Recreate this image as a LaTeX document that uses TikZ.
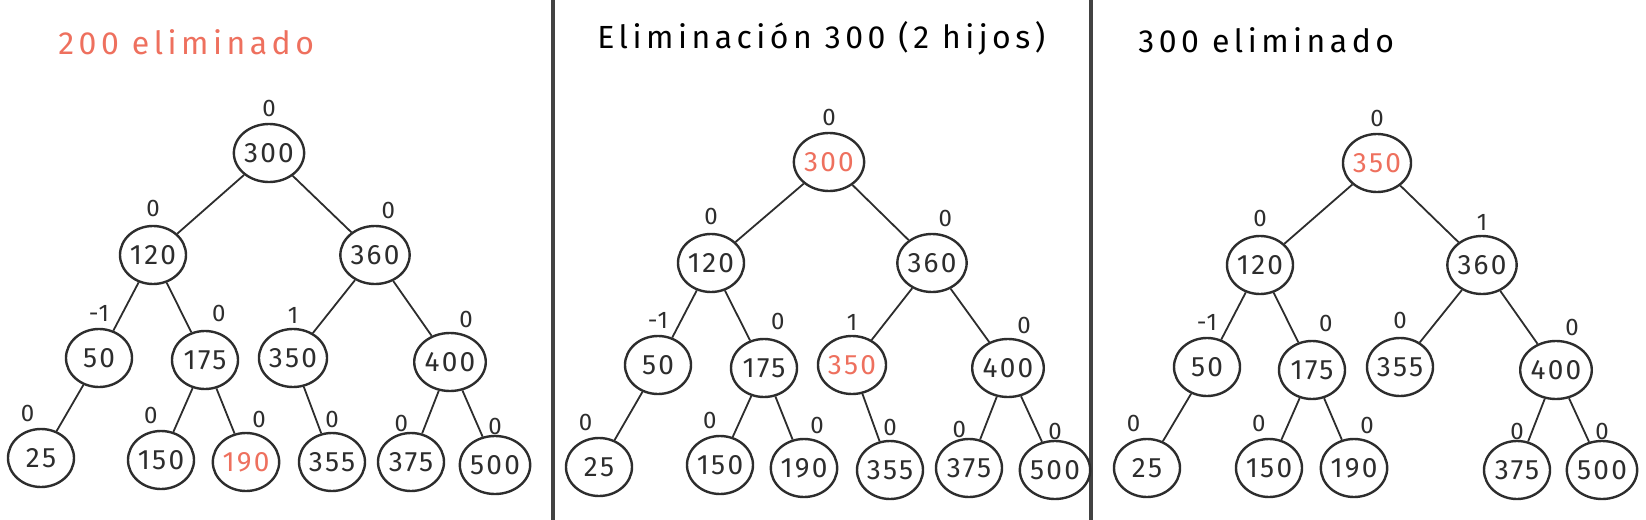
\documentclass[tikz,border=0pt]{standalone}
\usepackage{fontspec}
\setmainfont{Fira Sans}
\newfontfamily\hand[LetterSpace=8]{Fira Sans}
\newfontfamily\handwide[LetterSpace=14]{Fira Sans}
\usetikzlibrary{shapes.geometric}

\definecolor{salmon}{RGB}{238,112,94}
\definecolor{pencil}{RGB}{45,45,45}

\begin{document}
\begin{tikzpicture}
[x=0.5pt,y=-0.5pt,
 key/.style={ellipse,draw=pencil,line width=1.2pt,minimum width=33pt,minimum height=29pt,
   inner sep=0pt,text=pencil,font=\hand\fontsize{14}{14}\selectfont},
 bal/.style={inner sep=0pt,text=pencil,font=\hand\fontsize{12}{12}\selectfont},
 hot/.style={text=salmon},
 link/.style={draw=pencil,line width=0.9pt},
 title/.style={anchor=west,inner sep=0pt,font=\handwide\fontsize{16}{16}\selectfont},
 wall/.style={draw=pencil!90,line width=2pt}]

\useasboundingbox (0,0) rectangle (1646,520);

% separators
\coordinate (w1t) at (553,0);
\coordinate (w1b) at (553,520);
\coordinate (w2t) at (1091,0);
\coordinate (w2b) at (1091,520);
\draw [wall] (w1t) -- (w1b);
\draw [wall] (w2t) -- (w2b);

% --- panel 1
\node (t1) at (58,42) [title,text=salmon] {200 eliminado};
\node (a300) at (269,153) [key,label={[bal,label distance=3pt]above:0}] {300};
\node (a120) at (153,255) [key,label={[bal,label distance=4pt]above:0}] {120};
\node (a360) at (375,255) [key,label={[bal,label distance=3pt]80:0}] {360};
\node (a50) at (99,358) [key,label={[bal,label distance=3pt]above:-1}] {50};
\node (a175) at (205,360) [key,label={[bal,label distance=4pt]80:0}] {175};
\node (a350) at (293,358) [key,label={[bal,label distance=2pt]above:1}] {350};
\node (a400) at (450,362) [key,label={[bal,label distance=2pt]75:0}] {400};
\node (a25) at (41,458) [key,label={[bal,label distance=3pt]100:0}] {25};
\node (a150) at (161,460) [key,label={[bal,label distance=3pt]95:0}] {150};
\node (a190) at (246,462) [key,hot,label={[bal,label distance=2pt]80:0}] {190};
\node (a355) at (332,462) [key,label={[bal,label distance=2pt]above:0}] {355};
\node (a375) at (411,462) [key,label={[bal,label distance=0pt]95:0}] {375};
\node (a500) at (495,465) [key,label={[bal,label distance=0pt]above:0}] {500};

\path [link] (a300) -- (a120) (a300) -- (a360)
  (a120) -- (a50) (a120) -- (a175) (a360) -- (a350) (a360) -- (a400)
  (a50) -- (a25) (a175) -- (a150) (a175) -- (a190)
  (a350) -- (a355) (a400) -- (a375) (a400) -- (a500);

% --- panel 2
\node (t2) at (597,38) [title] {Eliminación 300 (2 hijos)};
\node (b300) at (829,162) [key,hot,label={[bal,label distance=3pt]above:0}] {300};
\node (b120) at (711,263) [key,label={[bal,label distance=4pt]above:0}] {120};
\node (b360) at (932,263) [key,label={[bal,label distance=3pt]80:0}] {360};
\node (b50) at (658,365) [key,label={[bal,label distance=3pt]above:-1}] {50};
\node (b175) at (764,368) [key,label={[bal,label distance=4pt]80:0}] {175};
\node (b350) at (852,365) [key,hot,label={[bal,label distance=2pt]above:1}] {350};
\node (b400) at (1008,368) [key,label={[bal,label distance=2pt]75:0}] {400};
\node (b25) at (599,467) [key,label={[bal,label distance=3pt]100:0}] {25};
\node (b150) at (720,465) [key,label={[bal,label distance=3pt]95:0}] {150};
\node (b190) at (804,468) [key,label={[bal,label distance=2pt]80:0}] {190};
\node (b355) at (890,470) [key,label={[bal,label distance=2pt]above:0}] {355};
\node (b375) at (969,468) [key,label={[bal,label distance=0pt]95:0}] {375};
\node (b500) at (1055,470) [key,label={[bal,label distance=0pt]above:0}] {500};

\path [link] (b300) -- (b120) (b300) -- (b360)
  (b120) -- (b50) (b120) -- (b175) (b360) -- (b350) (b360) -- (b400)
  (b50) -- (b25) (b175) -- (b150) (b175) -- (b190)
  (b350) -- (b355) (b400) -- (b375) (b400) -- (b500);

% --- panel 3
\node (t3) at (1138,40) [title] {300 eliminado};
\node (c350) at (1377,163) [key,hot,label={[bal,label distance=3pt]above:0}] {350};
\node (c120) at (1260,265) [key,label={[bal,label distance=4pt]above:0}] {120};
\node (c360) at (1482,265) [key,label={[bal,label distance=2pt]above:1}] {360};
\node (c50) at (1207,367) [key,label={[bal,label distance=3pt]above:-1}] {50};
\node (c175) at (1312,370) [key,label={[bal,label distance=4pt]80:0}] {175};
\node (c355) at (1400,367) [key,label={[bal,label distance=4pt]above:0}] {355};
\node (c400) at (1556,370) [key,label={[bal,label distance=2pt]75:0}] {400};
\node (c25) at (1147,468) [key,label={[bal,label distance=3pt]100:0}] {25};
\node (c150) at (1269,468) [key,label={[bal,label distance=3pt]95:0}] {150};
\node (c190) at (1354,468) [key,label={[bal,label distance=2pt]80:0}] {190};
\node (c375) at (1517,470) [key,label={[bal,label distance=0pt]above:0}] {375};
\node (c500) at (1602,470) [key,label={[bal,label distance=0pt]above:0}] {500};

\path [link] (c350) -- (c120) (c350) -- (c360)
  (c120) -- (c50) (c120) -- (c175) (c360) -- (c355) (c360) -- (c400)
  (c50) -- (c25) (c175) -- (c150) (c175) -- (c190)
  (c400) -- (c375) (c400) -- (c500);
\end{tikzpicture}
\end{document}
